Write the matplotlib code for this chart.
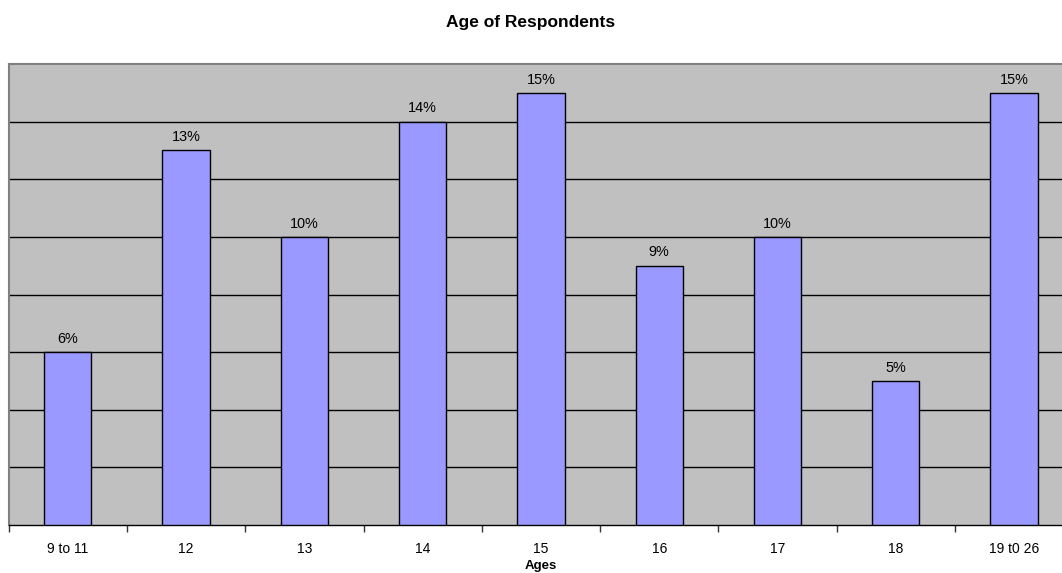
import matplotlib
matplotlib.use("Agg")
import matplotlib.pyplot as plt
import numpy as np

categories = ["9 to 11", "12", "13", "14", "15", "16", "17", "18", "19 t0 26"]
values = [6, 13, 10, 14, 15, 9, 10, 5, 15]
labels = ["6%", "13%", "10%", "14%", "15%", "9%", "10%", "5%", "15%"]

plt.rcParams['font.family'] = ['Liberation Sans', 'DejaVu Sans']

fig = plt.figure(figsize=(10.62, 5.73), dpi=100)
ax = fig.add_axes([8.7/1062, 48/573, 1064.5/1062, 461/573])
ax.set_facecolor('#C0C0C0')

x = np.arange(len(categories))
ax.bar(x, values, width=0.4, color='#9999FF', edgecolor='black', linewidth=1, zorder=3)
for xi, v, lab in zip(x, values, labels):
    ax.annotate(lab, xy=(xi, v), xytext=(0, 9.5), textcoords='offset points',
                ha='center', va='center', fontsize=10.4, zorder=4)

ax.set_xlim(-0.5, len(categories) - 0.5)
ax.set_ylim(0, 16)
for g in np.arange(2, 16, 2):
    ax.axhline(g, color='black', linewidth=1, zorder=1)

ax.set_yticks([])
ax.set_xticks(x)
ax.set_xticklabels(categories, fontsize=10)
ax.tick_params(axis='x', which='major', length=0, pad=12)
ax.set_xticks(np.arange(-0.5, len(categories), 1), minor=True)
ax.tick_params(axis='x', which='minor', length=5, width=1, color='#333333', direction='out')

for s in ['left', 'top', 'right']:
    ax.spines[s].set_color('#808080')
    ax.spines[s].set_linewidth(1.5)
ax.spines['bottom'].set_color('black')
ax.spines['bottom'].set_linewidth(1)

fig.text(541/1062, 1 - 566/573, 'Ages', ha='center', va='center', fontsize=9.5, fontweight='bold')
fig.text(531/1062, 1 - 22/573, 'Age of Respondents', ha='center', va='center', fontsize=12.5, fontweight='bold')

fig.savefig('out.png', dpi=100, facecolor='white')
